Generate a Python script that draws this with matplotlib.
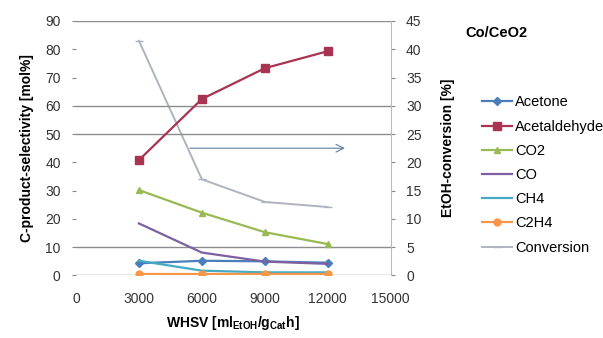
import matplotlib
matplotlib.use("Agg")
import matplotlib.pyplot as plt

plt.rcParams["font.family"] = ["Liberation Sans", "DejaVu Sans"]
plt.rcParams["mathtext.fontset"] = "custom"
plt.rcParams["mathtext.rm"] = "Liberation Sans:bold"

whsv = [3000, 6000, 9000, 12000]
acetone = [4.3, 5.2, 5.0, 4.5]
acetaldehyde = [40.8, 62.4, 73.3, 79.3]
co2 = [30.2, 22.2, 15.3, 11.1]
co = [18.4, 8.1, 4.9, 4.1]
ch4 = [5.2, 1.7, 1.1, 1.1]
c2h4 = [0.4, 0.4, 0.4, 0.4]
conversion = [41.5, 17.0, 13.0, 12.1]

grid_levels = [0, 10, 50, 60, 90]

fig = plt.figure(figsize=(6.03, 3.38), dpi=100)
ax = fig.add_axes([0.126, 0.185, 0.522, 0.753])
ax2 = ax.twinx()

tick_kw = dict(labelsize=10, labelcolor="#333333", color="#888888", length=3, pad=8)

for lvl in grid_levels:
    ax.axhline(lvl, color="#8c8c8c", lw=1.0, zorder=0)

series = [
    ("Acetone", acetone, "#4A7EBB", "D", 4),
    ("Acetaldehyde", acetaldehyde, "#A83352", "s", 6),
    ("CO2", co2, "#98B954", "^", 5),
    ("CO", co, "#7D60A0", None, 0),
    ("CH4", ch4, "#46AAC5", None, 0),
    ("C2H4", c2h4, "#F79646", "o", 5),
]
handles = []
for name, vals, col, mk, ms in series:
    h, = ax.plot(whsv, vals, color=col, lw=1.6, marker=mk, ms=ms, label=name, zorder=3)
    handles.append(h)

hc, = ax2.plot(whsv, conversion, color="#AEB3BF", lw=1.4, marker="_", ms=6,
               label="Conversion", zorder=2)
handles.append(hc)

# arrow pointing conversion to the right-hand axis
ax.annotate("", xy=(12950, 45), xytext=(5300, 45),
            arrowprops=dict(arrowstyle="->", color="#5E7FA0", lw=0.8,
                            mutation_scale=14))

ax.set_xlim(0, 15000)
ax.set_ylim(0, 90)
ax2.set_ylim(0, 45)
ax.set_xticks([0, 3000, 6000, 9000, 12000, 15000])
ax.set_yticks(range(0, 91, 10))
ax2.set_yticks(range(0, 46, 5))
ax.tick_params(axis="y", **tick_kw)
ax2.tick_params(axis="y", **tick_kw)
ax.tick_params(axis="x", labelsize=10, labelcolor="#333333", length=0, pad=12)

for a in (ax, ax2):
    for s in ("top", "left", "bottom", "right"):
        a.spines[s].set_visible(False)
ax2.spines["right"].set_visible(True)
ax2.spines["right"].set_color("#bbbbbb")
ax2.spines["right"].set_linewidth(0.8)
ax.patch.set_visible(False)
ax.set_zorder(ax2.get_zorder() + 1)

ax.set_ylabel("C-product-selectivity [mol%]", fontsize=10, fontweight="bold", labelpad=8)
ax2.set_ylabel("EtOH-conversion [%]", fontsize=10, fontweight="bold", labelpad=14)
ax.set_xlabel(r"WHSV [ml$_{\mathrm{EtOH}}$/g$_{\mathrm{Cat}}$h]", fontsize=10,
              fontweight="bold", labelpad=6)

fig.text(0.771, 0.903, "Co/CeO2", fontsize=10.5, fontweight="bold", va="center")
fig.legend(handles=handles, loc="upper left", bbox_to_anchor=(0.789, 0.735),
           frameon=False, fontsize=10.5, handlelength=2.1, handletextpad=0.2,
           labelspacing=0.7, borderaxespad=0)

fig.savefig("out.png", dpi=100)
